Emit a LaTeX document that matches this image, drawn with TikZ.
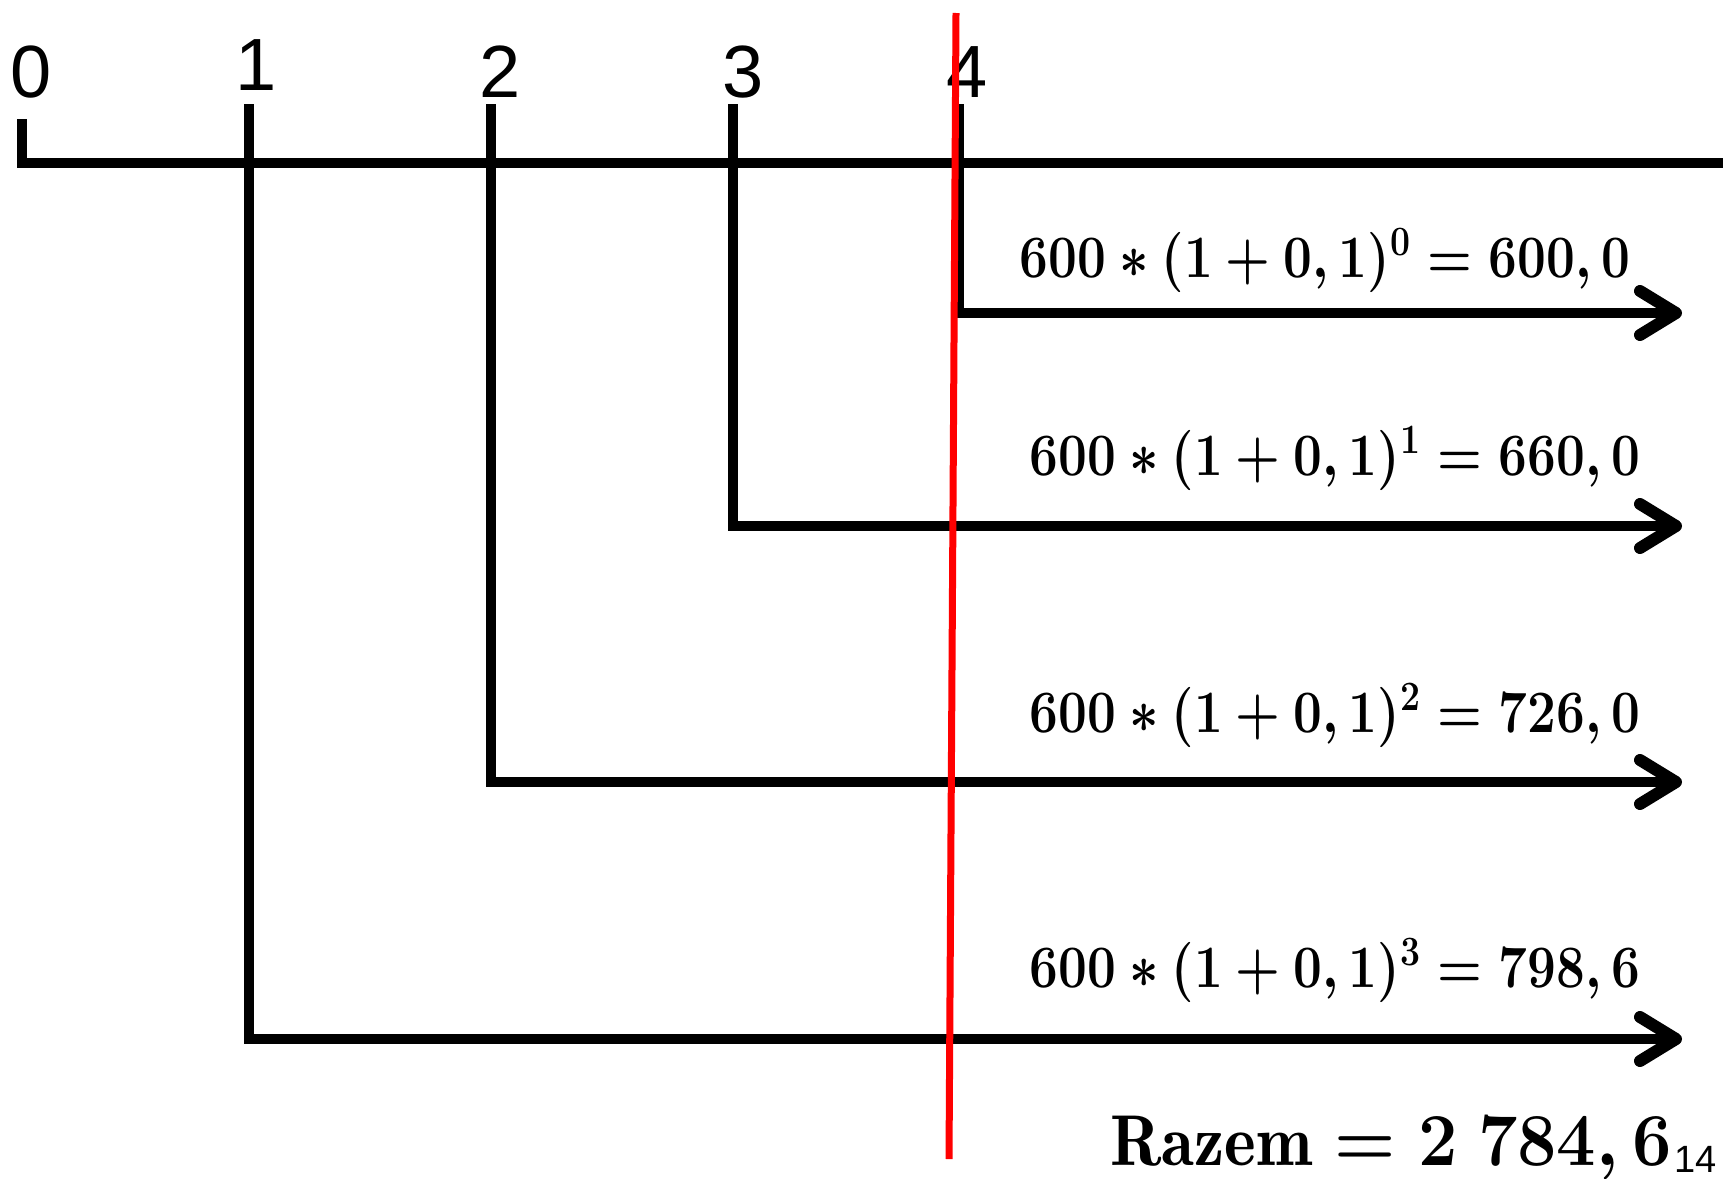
\documentclass[tikz,border=0pt]{standalone}
\usepackage{fontspec}
\setsansfont{Liberation Sans}
\usetikzlibrary{arrows.meta}
\newcommand{\bigformula}[3]{\scalebox{#1}[#2]{\fontsize{20}{24}\selectfont\boldmath$#3$}}
\begin{document}
\tikzset{
  blk/.style={line width=10pt, line join=miter, line cap=butt},
  arr/.style={blk, -{Straight Barb[length=36pt,width=44pt,line width=12pt,round]}},
  tlab/.style={font=\sffamily\fontsize{74}{80}\selectfont, anchor=base, inner sep=0pt},
  frm/.style={anchor=base, inner sep=0pt},
  pgn/.style={font=\sffamily\fontsize{38}{40}\selectfont, anchor=base west, inner sep=0pt},
  redl/.style={draw=red, line width=7pt}
}
\begin{tikzpicture}[x=1pt,y=-1pt]
\useasboundingbox (0,0) rectangle (1723,1178);
% axis
\coordinate (a0) at (22,119);
\coordinate (aE) at (1723,163);
\draw[blk] (a0) |- (aE);
% ticks and arrows
\coordinate (t1) at (249,104); \coordinate (e1) at (1682,1039);
\coordinate (t2) at (491,104); \coordinate (e2) at (1682,782);
\coordinate (t3) at (733,104); \coordinate (e3) at (1682,526);
\coordinate (t4) at (959,104); \coordinate (e4) at (1682,313);
\draw[arr] (t1) |- (e1);
\draw[arr] (t2) |- (e2);
\draw[arr] (t3) |- (e3);
\draw[arr] (t4) |- (e4);
% labels
\node[tlab] (l0) at (31,97) {0};
\node[tlab] (l1) at (256,90) {1};
\node[tlab] (l2) at (500,97) {2};
\node[tlab] (l3) at (743,97) {3};
\node[tlab] (l4) at (967,97) {4};
% formulas
\node[frm] (f0) at (1325,277) {\bigformula{2.47}{2.9}{600*(1+0,1)^{0}=600,0}};
\node[frm] (f1) at (1335,475) {\bigformula{2.47}{2.9}{600*(1+0,1)^{1}=660,0}};
\node[frm] (f2) at (1335,732) {\bigformula{2.47}{2.9}{600*(1+0,1)^{2}=726,0}};
\node[frm] (f3) at (1335,987) {\bigformula{2.47}{2.9}{600*(1+0,1)^{3}=798,6}};
\node[frm] (rz) at (1391,1165) {\bigformula{3.38}{3.6}{\mathrm{Razem}=2\ 784,6}};
\node[pgn] (pg) at (1674,1172) {14};
% red line
\coordinate (r0) at (956,13);
\coordinate (r1) at (949,1159);
\draw[redl] (r0) -- (r1);
\end{tikzpicture}
\end{document}
